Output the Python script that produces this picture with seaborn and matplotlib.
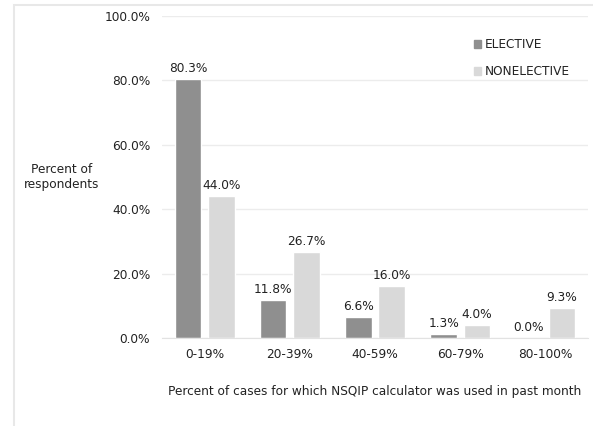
import matplotlib
matplotlib.use("Agg")
import matplotlib.pyplot as plt
import pandas as pd
import seaborn as sns
from matplotlib.patches import Rectangle

categories = ["0-19%", "20-39%", "40-59%", "60-79%", "80-100%"]
elective = [80.3, 11.8, 6.6, 1.3, 0.0]
nonelective = [44.0, 26.7, 16.0, 4.0, 9.3]
series = ["ELECTIVE", "NONELECTIVE"]
colors = ["#8f8f8f", "#d9d9d9"]

df = pd.DataFrame({
    "range": categories * 2,
    "pct": elective + nonelective,
    "type": [series[0]] * len(categories) + [series[1]] * len(categories),
})

sns.set_style("white")
plt.rcParams["font.family"] = ["DejaVu Sans"]
text_color = "#222222"
fs = 8.7

fig = plt.figure(figsize=(5.93, 4.26), dpi=100)
ax = fig.add_axes([162 / 593, 1 - 338 / 426, (588 - 162) / 593, (338 - 16) / 426])

sns.barplot(data=df, x="range", y="pct", hue="type", palette=colors,
            width=0.78, gap=0.2, ax=ax, legend=False, saturation=1)

for cont in ax.containers:
    ax.bar_label(cont, fmt="%.1f%%", padding=3, fontsize=fs, color=text_color)

ax.set_ylim(0, 100)
ax.set_xlim(-0.5, len(categories) - 0.5)
ax.set_yticks(range(0, 101, 20))
ax.yaxis.set_major_formatter(matplotlib.ticker.StrMethodFormatter("{x:.1f}%"))
ax.grid(axis="y", color="#ececec", linewidth=1)
ax.set_axisbelow(True)
for s in ["top", "right", "left"]:
    ax.spines[s].set_visible(False)
ax.spines["bottom"].set_color("#e2e2e2")
ax.tick_params(axis="y", length=0, pad=8.5, labelsize=fs, labelcolor=text_color)
ax.tick_params(axis="x", length=0, pad=7, labelsize=fs, labelcolor=text_color)
ax.set_xlabel("")
ax.set_ylabel("")

fig.text(375 / 593, 1 - 392 / 426, "Percent of cases for which NSQIP calculator was used in past month",
         ha="center", va="center", fontsize=fs, color=text_color)
fig.text(62 / 593, 1 - 177 / 426, "Percent of\nrespondents", ha="center", va="center",
         fontsize=fs, color=text_color, linespacing=1.25)

handles = [Rectangle((0, 0), 1, 1, color=c) for c in colors]
fig.legend(handles, series, loc="upper left", bbox_to_anchor=(468 / 593, 1 - 32 / 426),
           frameon=False, fontsize=fs, handlelength=0.6, handleheight=0.6,
           handletextpad=0.3, labelspacing=1.15, labelcolor=text_color, borderpad=0)

# chart-area border (cropped)
fig.add_artist(Rectangle((14 / 593, -0.1), 1.0, 1.1 - 5 / 426, transform=fig.transFigure,
                         fill=False, edgecolor="#e8e8e8", linewidth=1.5))

fig.savefig("out.png", dpi=100)
